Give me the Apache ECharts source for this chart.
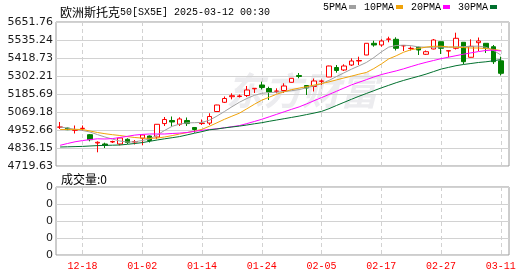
<!DOCTYPE html>
<html><head><meta charset="utf-8">
<script src="https://cdn.jsdelivr.net/npm/echarts@6/dist/echarts.min.js"></script>
<style>html,body{margin:0;padding:0;background:#fff}#c{width:530px;height:276px}</style>
</head><body><div id="c"></div>
<script>
const dates = ['12-13','12-16','12-17','12-18','12-19','12-20','12-23','12-24','12-27','12-30','12-31',
'01-02','01-03','01-06','01-07','01-08','01-09','01-10','01-13','01-14','01-15','01-16','01-17','01-20','01-21','01-22','01-23','01-24','01-27','01-28','01-29','01-30','01-31',
'02-03','02-04','02-05','02-06','02-07','02-10','02-11','02-12','02-13','02-14','02-17','02-18','02-19','02-20','02-21','02-24','02-25','02-26','02-27','02-28',
'03-03','03-04','03-05','03-06','03-07','03-10','03-11'];
const opens = [4970.5,4965.0,4951.0,4962.0,4922.3,4868.5,4862.1,4875.0,4862.1,4892.5,4875.0,4899.5,4913.8,4907.4,4994.3,5014.2,4989.6,5014.2,4968.9,4994.3,4997.4,5072.4,5132.0,5168.2,5169.5,5176.0,5219.4,5244.0,5221.3,5203.0,5208.4,5261.4,5305.5,5240.7,5234.2,5268.0,5295.8,5357.2,5341.1,5373.4,5399.3,5438.2,5513.9,5502.9,5539.8,5539.8,5497.0,5480.0,5488.0,5442.7,5477.0,5524.2,5464.0,5481.5,5520.4,5423.3,5517.8,5513.9,5491.8,5400.2];
const closes = [4972.1,4955.0,4953.0,4964.0,4889.9,4873.0,4852.3,4878.2,4900.9,4871.8,4878.2,4920.5,4884.7,4989.6,5020.7,5004.5,5023.9,4994.3,4956.0,4997.4,5040.1,5114.5,5156.6,5174.7,5172.8,5211.6,5222.6,5227.8,5198.7,5205.1,5237.5,5287.3,5299.0,5224.5,5269.9,5269.9,5367.0,5337.8,5367.0,5399.3,5402.6,5513.9,5502.9,5528.8,5541.7,5481.5,5499.7,5481.5,5470.5,5459.5,5535.3,5481.5,5466.0,5546.3,5394.8,5494.5,5528.8,5483.5,5394.8,5319.7];
const lows = [4959.1,4952.0,4930.0,4946.2,4879.5,4808.3,4836.2,4868.5,4853.6,4862.1,4858.8,4853.6,4871.8,4894.4,4978.6,4975.3,4978.6,4978.6,4935.2,4985.0,4985.0,5071.0,5127.5,5151.4,5163.0,5166.3,5192.2,5214.8,5146.9,5190.2,5192.2,5260.0,5287.3,5179.2,5201.9,5244.0,5295.0,5323.6,5334.6,5367.0,5373.4,5437.0,5491.8,5491.8,5520.4,5467.3,5464.0,5467.3,5438.2,5438.2,5475.0,5444.7,5423.3,5473.7,5377.9,5422.0,5464.0,5451.2,5380.0,5305.5];
const highs = [5004.5,4968.0,4981.8,4981.8,4926.8,4879.5,4870.5,4883.4,4901.5,4899.0,4888.0,4921.5,4917.1,4990.5,5036.8,5040.1,5034.9,5033.6,4972.1,5020.7,5060.8,5116.0,5169.5,5190.2,5182.5,5237.5,5223.5,5265.3,5232.9,5222.6,5254.9,5288.5,5321.6,5241.5,5286.0,5279.5,5368.9,5373.4,5377.9,5416.7,5427.2,5515.0,5530.7,5539.8,5556.6,5552.7,5500.5,5493.2,5491.8,5467.3,5541.7,5525.0,5466.5,5582.5,5521.0,5539.8,5551.4,5514.5,5502.9,5427.2];
const ma5 = [4972.1,4965.0,4957.2,4949.4,4939.7,4922.9,4907.4,4893.8,4881.5,4874.4,4876.3,4884.7,4894.4,4920.3,4950.1,4976.6,4990.9,4998.6,4999.9,5001.9,5016.1,5042.7,5072.4,5102.9,5132.0,5156.6,5176.7,5190.2,5194.8,5197.4,5201.2,5207.1,5214.2,5225.8,5238.1,5252.4,5273.7,5298.3,5322.3,5346.2,5367.6,5389.6,5421.3,5457.6,5489.3,5499.7,5501.6,5498.4,5490.6,5488.6,5488.6,5489.9,5488.0,5490.6,5492.5,5493.8,5495.8,5488.0,5468.6,5438.2];
const ma10 = [4955.9,4955.9,4957.2,4955.9,4946.2,4936.5,4928.7,4922.3,4917.1,4910.0,4904.1,4900.3,4899.0,4900.3,4907.4,4916.4,4926.8,4935.9,4945.6,4957.2,4977.3,4999.3,5021.9,5042.0,5061.4,5089.9,5119.0,5145.6,5165.0,5184.4,5200.0,5214.2,5223.9,5233.6,5243.3,5253.0,5264.0,5277.0,5289.3,5300.9,5313.9,5324.9,5350.1,5379.9,5412.9,5433.0,5456.3,5472.5,5480.2,5489.3,5494.5,5495.1,5490.6,5488.6,5486.1,5483.5,5483.5,5479.6,5474.4,5467.3];
const ma20 = [4853.6,4865.3,4876.3,4884.1,4890.5,4895.7,4894.4,4897.0,4904.1,4911.9,4919.7,4924.2,4926.8,4926.8,4926.8,4930.0,4932.6,4936.5,4944.3,4950.7,4955.9,4960.5,4966.9,4974.0,4981.2,4994.1,5007.7,5021.9,5038.1,5054.3,5070.5,5086.7,5102.2,5121.6,5142.3,5162.4,5182.5,5203.2,5223.9,5244.6,5261.4,5278.3,5295.8,5311.3,5323.6,5335.2,5348.8,5363.7,5378.0,5390.9,5402.6,5414.2,5423.9,5433.6,5443.3,5451.8,5460.2,5467.3,5469.9,5464.1];
const ma30 = [4842.6,4843.9,4845.2,4846.5,4849.1,4851.7,4853.0,4854.3,4855.6,4860.1,4865.3,4871.1,4879.5,4888.0,4895.7,4902.8,4910.0,4921.0,4932.0,4942.3,4954.0,4959.2,4966.3,4972.1,4977.9,4985.0,4992.8,4999.9,5009.0,5017.4,5025.8,5034.2,5042.7,5052.4,5062.1,5073.1,5090.6,5111.3,5131.3,5151.4,5170.8,5188.9,5207.1,5225.2,5242.0,5258.9,5273.7,5287.3,5300.3,5314.5,5330.7,5346.9,5357.9,5368.9,5376.7,5383.1,5389.6,5394.1,5400.6,5409.0];
const volumes = [0,0,0,0,0,0,0,0,0,0,0,0,0,0,0,0,0,0,0,0,0,0,0,0,0,0,0,0,0,0,0,0,0,0,0,0,0,0,0,0,0,0,0,0,0,0,0,0,0,0,0,0,0,0,0,0,0,0,0,0];
const priceTicks = ['4719.63','4836.15','4952.66','5069.18','5185.69','5302.21','5418.73','5535.24','5651.76'];
const volTicks = ['0','0','0','0','0'];
const tickDates = ['12-18','01-02','01-14','01-24','02-05','02-17','02-27','03-11'];
const seriesNames = ['5PMA','10PMA','20PMA','30PMA'];

const priceVals = priceTicks.map(Number);
const tickIdx = tickDates.map(d => dates.indexOf(d));
const xMin = -0.55, xMax = 60.1;
const gridColor = '#d2d2d2';
const borderColor = '#9a9a9a';
const lineColors = ['#a0a0a0', '#f0a30a', '#ff00ff', '#00702e'];

const chart = echarts.init(document.getElementById('c'));
const idx = dates.map((d, i) => i);
const mkLine = (name, arr, color) => ({
  name, type: 'line', xAxisIndex: 0, yAxisIndex: 0,
  data: idx.map(i => [i, arr[i]]), showSymbol: false, symbol: 'none',
  lineStyle: { width: 1, color }, itemStyle: { color }, z: 3, silent: true
});
const xBase = {
  type: 'value', min: xMin, max: xMax,
  axisLine: { show: false }, axisTick: { show: false, customValues: tickIdx },
  splitLine: { show: true, lineStyle: { color: gridColor, type: [4, 3], width: 1 } }
};
chart.setOption({
  animation: false,
  title: [
    { text: '{a|欧洲斯托克}{b|50[SX5E] 2025-03-12 00:30}', left: 55, top: 1,
      textStyle: { rich: {
        a: { fontFamily: 'Noto Sans CJK SC', fontSize: 12, color: '#000', fontWeight: 'normal' },
        b: { fontFamily: 'Liberation Mono', fontSize: 10, color: '#000', fontWeight: 'normal' } } } },
    { text: '成交量:0', left: 56, top: 168,
      textStyle: { fontFamily: 'Noto Sans CJK SC', fontSize: 12, color: '#000', fontWeight: 'normal' } }
  ],
  legend: {
    right: 33, top: 2, padding: 0, align: 'right', itemWidth: 7, itemHeight: 4, itemGap: 8,
    textStyle: { fontFamily: 'Liberation Mono', fontSize: 10, color: '#000', padding: [0, -3, 0, 0] },
    data: seriesNames.map(n => ({ name: n, icon: 'rect' }))
  },
  graphic: [{
    type: 'text', left: 226, top: 72, z: -10, silent: true,
    style: { text: '东方财富', font: 'italic bold 38px "Noto Sans CJK SC"', fill: '#ececef' }
  }],
  grid: [
    { left: 56, top: 22, width: 453, height: 144, show: true, borderColor, borderWidth: 1 },
    { left: 56, top: 187, width: 453, height: 68, show: true, borderColor, borderWidth: 1 }
  ],
  xAxis: [
    Object.assign({}, xBase, { gridIndex: 0, axisLabel: { show: false, customValues: tickIdx } }),
    Object.assign({}, xBase, { gridIndex: 1, axisLabel: { show: true, customValues: tickIdx,
      formatter: v => dates[Math.round(v)], color: '#ff0000', fontFamily: 'Liberation Mono', fontSize: 10, margin: 6 } })
  ],
  yAxis: [
    { type: 'value', gridIndex: 0, min: priceVals[0], max: priceVals[priceVals.length - 1],
      axisLine: { show: false }, axisTick: { show: false, customValues: priceVals },
      axisLabel: { customValues: priceVals, margin: 3, color: '#1a1a1a', fontFamily: 'DejaVu Sans', fontSize: 11,
        formatter: v => { let b = 0; priceVals.forEach((p, k) => { if (Math.abs(p - v) < Math.abs(priceVals[b] - v)) b = k; }); return priceTicks[b]; } },
      splitLine: { show: true, lineStyle: { color: gridColor, width: 1 } } },
    { type: 'value', gridIndex: 1, min: 0, max: 4, interval: 1,
      axisLine: { show: false }, axisTick: { show: false },
      axisLabel: { margin: 3, color: '#1a1a1a', fontFamily: 'DejaVu Sans', fontSize: 11, formatter: (v, k) => volTicks[k] || '0' },
      splitLine: { show: true, lineStyle: { color: gridColor, width: 1 } } }
  ],
  series: [
    { name: 'K', type: 'candlestick', xAxisIndex: 0, yAxisIndex: 0, barWidth: 5,
      data: idx.map(i => [i, opens[i], closes[i], lows[i], highs[i]]),
      encode: { x: 0, y: [1, 2, 3, 4] },
      itemStyle: { color: '#ffffff', color0: '#008000', borderColor: '#ff0000', borderColor0: '#008000', borderWidth: 1 },
      z: 2, silent: true },
    mkLine(seriesNames[0], ma5, lineColors[0]),
    mkLine(seriesNames[1], ma10, lineColors[1]),
    mkLine(seriesNames[2], ma20, lineColors[2]),
    mkLine(seriesNames[3], ma30, lineColors[3]),
    { name: '成交量', type: 'bar', xAxisIndex: 1, yAxisIndex: 1, barWidth: 5,
      data: idx.map(i => [i, volumes[i]]), itemStyle: { color: '#ff0000' }, silent: true }
  ]
});
</script></body></html>
